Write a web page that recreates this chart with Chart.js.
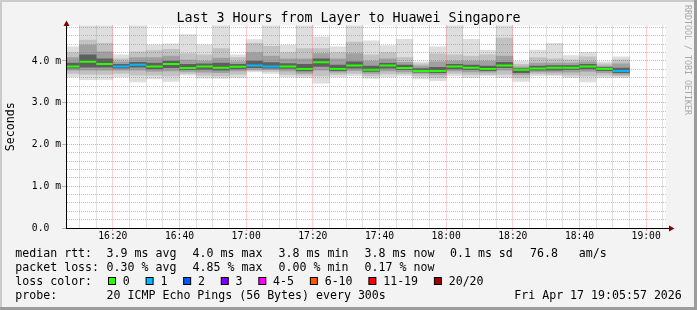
<!DOCTYPE html>
<html>
<head>
<meta charset="utf-8">
<script src="https://cdn.jsdelivr.net/npm/chart.js@4.4.1/dist/chart.umd.min.js"></script>
<style>
  html, body { margin: 0; padding: 0; background: #f3f3f3; overflow: hidden; }
  canvas { display: block; }
</style>
</head>
<body>
<canvas id="smoke" width="697" height="310"></canvas>
<script>
// 5 minute slots (start time), values in ms
const slotTimes = ['16:05', '16:10', '16:15', '16:20', '16:25', '16:30', '16:35', '16:40', '16:45', '16:50',
  '16:55', '17:00', '17:05', '17:10', '17:15', '17:20', '17:25', '17:30', '17:35', '17:40',
  '17:45', '17:50', '17:55', '18:00', '18:05', '18:10', '18:15', '18:20', '18:25', '18:30',
  '18:35', '18:40', '18:45', '18:50'];
const pingMax = [4.34, 4.90, 4.90, 4.15, 4.90, 4.39, 4.41, 4.63, 4.39, 4.90,
  4.15, 4.51, 4.90, 4.38, 4.90, 4.58, 4.34, 4.90, 4.48, 4.37,
  4.52, 3.98, 4.34, 4.90, 4.52, 4.26, 4.90, 3.99, 4.26, 4.42,
  4.13, 4.21, 3.98, 4.10];
const pingHi90 = [4.20, 4.50, 4.42, 4.05, 4.22, 4.25, 4.28, 4.18, 4.15, 4.30,
  4.08, 4.42, 4.35, 4.20, 4.30, 4.30, 4.20, 4.45, 4.15, 4.20,
  4.08, 3.93, 4.17, 4.15, 4.12, 4.15, 4.55, 3.92, 4.08, 4.05,
  4.03, 4.10, 3.93, 4.03];
const pingHi75 = [4.08, 4.38, 4.22, 3.98, 4.08, 4.08, 4.12, 4.02, 4.00, 4.07,
  3.98, 4.20, 4.12, 4.05, 4.05, 4.18, 4.05, 4.18, 4.00, 4.05,
  3.97, 3.88, 3.98, 4.00, 4.00, 4.00, 4.12, 3.86, 3.95, 3.95,
  3.95, 3.98, 3.88, 3.93];
const pingHi60 = [3.95, 4.15, 4.05, 3.92, 3.97, 3.95, 4.00, 3.92, 3.93, 3.95,
  3.92, 4.00, 3.96, 3.94, 3.92, 4.05, 3.90, 3.98, 3.88, 3.95,
  3.90, 3.82, 3.85, 3.92, 3.90, 3.88, 3.97, 3.82, 3.88, 3.89,
  3.89, 3.92, 3.84, 3.83];
const median = [3.87, 3.98, 3.93, 3.87, 3.91, 3.87, 3.93, 3.83, 3.87, 3.84,
  3.86, 3.89, 3.87, 3.87, 3.81, 3.97, 3.81, 3.89, 3.79, 3.89,
  3.83, 3.76, 3.76, 3.87, 3.84, 3.81, 3.89, 3.79, 3.82, 3.84,
  3.84, 3.87, 3.81, 3.76];
const pingLo40 = [3.83, 3.85, 3.85, 3.83, 3.85, 3.81, 3.84, 3.79, 3.80, 3.78,
  3.81, 3.84, 3.83, 3.82, 3.76, 3.87, 3.77, 3.83, 3.75, 3.83,
  3.79, 3.73, 3.72, 3.81, 3.79, 3.77, 3.84, 3.72, 3.78, 3.78,
  3.79, 3.81, 3.77, 3.72];
const pingLo25 = [3.78, 3.78, 3.78, 3.78, 3.78, 3.75, 3.76, 3.75, 3.73, 3.72,
  3.76, 3.80, 3.79, 3.76, 3.71, 3.78, 3.73, 3.77, 3.70, 3.76,
  3.74, 3.70, 3.67, 3.76, 3.74, 3.73, 3.78, 3.67, 3.74, 3.73,
  3.73, 3.75, 3.72, 3.68];
const pingLo10 = [3.70, 3.68, 3.68, 3.70, 3.66, 3.66, 3.64, 3.70, 3.66, 3.64,
  3.68, 3.77, 3.75, 3.68, 3.66, 3.64, 3.68, 3.70, 3.64, 3.69,
  3.69, 3.64, 3.60, 3.70, 3.67, 3.68, 3.68, 3.60, 3.69, 3.68,
  3.66, 3.64, 3.66, 3.64];
const pingMin = [3.62, 3.55, 3.56, 3.62, 3.50, 3.57, 3.51, 3.66, 3.59, 3.58,
  3.60, 3.74, 3.70, 3.62, 3.60, 3.47, 3.62, 3.64, 3.58, 3.62,
  3.64, 3.57, 3.53, 3.64, 3.60, 3.64, 3.60, 3.51, 3.64, 3.64,
  3.60, 3.50, 3.60, 3.60];
// index into lossColors for each slot
const lossIndex = [0, 0, 0, 1, 1, 0, 0, 0, 0, 0,
  0, 1, 1, 0, 0, 0, 0, 0, 0, 0,
  0, 0, 0, 0, 0, 0, 0, 0, 0, 0,
  0, 0, 0, 1];

const lossLabels = ['0', '1', '2', '3', '4-5', '6-10', '11-19', '20/20'];
const lossColors = ['#26ff00', '#00b8ff', '#0059ff', '#7e00ff', '#ff00ff', '#ff5500', '#ff0000', '#a10000'];
const yTickLabels = ['0.0  ', '1.0 m', '2.0 m', '3.0 m', '4.0 m'];
const rttStats = ['3.9 ms avg', '4.0 ms max', '3.8 ms min', '3.8 ms now', '0.1 ms sd', '76.8   am/s'];
const lossStats = ['0.30 % avg', '4.85 % max', '0.00 % min', '0.17 % now'];
const titleText = 'Last 3 Hours from Layer to Huawei Singapore';
const probeText = '20 ICMP Echo Pings (56 Bytes) every 300s';
const dateText = 'Fri Apr 17 19:05:57 2026';

const MONO = '"DejaVu Sans Mono", monospace';
const toMin = s => { const p = s.split(':'); return +p[0] * 60 + +p[1]; };
const graphStart = 16 * 60 + 5 + 57 / 60;
const graphEnd = 19 * 60 + 5 + 57 / 60;
const centers = slotTimes.map(t => toMin(t) + 2.5);

const xGrid = [];
for (let m = 970; m < graphEnd; m += 5) xGrid.push(m);
const yGrid = [];
for (let k = 0; k <= 24; k++) yGrid.push(k / 5);

const MAJOR = 'rgba(235, 70, 70, 0.5)';
const MINOR = 'rgba(120, 120, 120, 0.45)';
const NONE = 'rgba(0, 0, 0, 0)';
const isMajorX = v => Math.round(v) % 20 === 0;
const isMajorY = v => Math.round(v * 5) % 5 === 0;
const hhmm = v => String(Math.floor(v / 60)).padStart(2, '0') + ':' + String(Math.round(v % 60)).padStart(2, '0');
const tickVal = c => (c && c.tick) ? c.tick.value : null;

function band(lo, hi, color, order) {
  return {
    data: centers.map((x, i) => ({ x: x, y: [lo[i], hi[i]] })),
    backgroundColor: color,
    borderWidth: 0,
    grouped: false,
    barPercentage: 1,
    categoryPercentage: 1,
    clip: 0,
    order: order
  };
}

const rrdFrame = {
  id: 'rrdFrame',
  beforeDraw(chart) {
    const { ctx, width, height, chartArea: a } = chart;
    ctx.save();
    ctx.fillStyle = '#f3f3f3';
    ctx.fillRect(0, 0, width, height);
    ctx.fillStyle = '#cbcbcb';
    ctx.fillRect(0, 0, width, 2);
    ctx.fillRect(0, 0, 2, height);
    ctx.fillStyle = '#9c9c9c';
    ctx.fillRect(0, height - 3, width, 3);
    ctx.fillRect(width - 3, 0, 3, height);
    ctx.fillStyle = '#ffffff';
    ctx.fillRect(a.left, a.top, a.right - a.left, a.bottom - a.top);
    ctx.restore();
  },
  afterDraw(chart) {
    const { ctx, chartArea: a } = chart;
    ctx.save();
    // axis extensions and arrows
    ctx.strokeStyle = '#000';
    ctx.lineWidth = 1;
    ctx.beginPath();
    ctx.moveTo(a.right, a.bottom + 0.5);
    ctx.lineTo(a.right + 3, a.bottom + 0.5);
    ctx.stroke();
    ctx.fillStyle = '#800000';
    ctx.beginPath();
    ctx.moveTo(a.right + 3, a.bottom - 2.5);
    ctx.lineTo(a.right + 8.5, a.bottom + 0.5);
    ctx.lineTo(a.right + 3, a.bottom + 3.5);
    ctx.closePath();
    ctx.fill();
    ctx.beginPath();
    ctx.moveTo(a.left - 2.5, a.top + 0.5);
    ctx.lineTo(a.left + 0.5, a.top - 5);
    ctx.lineTo(a.left + 3.5, a.top + 0.5);
    ctx.closePath();
    ctx.fill();

    // title
    ctx.fillStyle = '#000';
    ctx.font = '13.3px ' + MONO;
    ctx.textAlign = 'center';
    ctx.textBaseline = 'middle';
    ctx.fillText(titleText, 348.5, 19);

    // legend rows
    ctx.font = '11.6px ' + MONO;
    ctx.textAlign = 'left';
    const rows = [254, 267.8, 281.6, 295.6];
    const cols = [106.6, 192.6, 278.6, 364.6, 450, 530];
    ctx.fillText('median rtt:', 15.3, rows[0]);
    rttStats.forEach((s, i) => ctx.fillText(s, cols[i], rows[0]));
    ctx.fillText('packet loss:', 15.3, rows[1]);
    lossStats.forEach((s, i) => ctx.fillText(s, cols[i], rows[1]));
    ctx.fillText('loss color:', 15.3, rows[2]);
    let bx = 108.5;
    lossLabels.forEach((lab, i) => {
      ctx.fillStyle = lossColors[i];
      ctx.fillRect(bx, 277.5, 7, 7);
      ctx.strokeStyle = '#000';
      ctx.strokeRect(bx, 277.5, 7, 7);
      ctx.fillStyle = '#000';
      ctx.fillText(lab, bx + 14.3, rows[2]);
      bx += 15 + ctx.measureText(lab).width + 15.6;
    });
    ctx.fillText('probe:', 15.3, rows[3]);
    ctx.fillText(probeText, cols[0], rows[3]);
    ctx.textAlign = 'right';
    ctx.fillText(dateText, 681.8, rows[3]);

    // vertical watermark
    ctx.translate(687, 5);
    ctx.rotate(Math.PI / 2);
    ctx.textAlign = 'left';
    ctx.fillStyle = '#a8a8a8';
    ctx.font = '8.3px ' + MONO;
    ctx.fillText('RRDTOOL / TOBI OETIKER', 0, 0);
    ctx.restore();
  }
};

Chart.defaults.font.family = MONO;
Chart.defaults.color = '#000';

new Chart(document.getElementById('smoke'), {
  type: 'bar',
  data: {
    datasets: [
      {
        type: 'line',
        data: centers.map((x, i) => ({ x: x, y: median[i] })),
        showLine: false,
        pointStyle: 'line',
        pointRadius: 8.333,
        pointBorderWidth: 2,
        pointBorderColor: lossIndex.map(i => lossColors[i]),
        clip: 0,
        order: 0
      },
      band(pingLo40, pingHi60, '#5f5f5f', 1),
      band(pingLo25, pingHi75, '#a0a0a0', 2),
      band(pingLo10, pingHi90, '#c2c2c2', 3),
      band(pingMin, pingMax, '#dedede', 4)
    ]
  },
  options: {
    responsive: false,
    animation: false,
    devicePixelRatio: 1,
    layout: { padding: { top: 25.5, left: 0, right: 31, bottom: 0 } },
    plugins: {
      legend: { display: false },
      tooltip: { enabled: false },
      title: { display: false }
    },
    scales: {
      x: {
        type: 'linear',
        offset: false,
        min: graphStart,
        max: graphEnd,
        afterBuildTicks: s => { s.ticks = xGrid.map(v => ({ value: v })); },
        afterFit: s => { s.height = 82; },
        grid: {
          z: 1,
          offset: false,
          color: c => { const v = tickVal(c); return v !== null && isMajorX(v) ? MAJOR : MINOR; },
          tickColor: c => { const v = tickVal(c); return v !== null && isMajorX(v) ? MAJOR : NONE; },
          tickLength: 3
        },
        border: { display: true, color: '#000', width: 1, dash: [1, 1], z: 2 },
        ticks: {
          autoSkip: false,
          maxRotation: 0,
          padding: 0,
          font: { size: 9.7 },
          callback: v => isMajorX(v) ? hhmm(v) : ''
        }
      },
      y: {
        min: 0,
        max: 4.85,
        afterBuildTicks: s => { s.ticks = yGrid.map(v => ({ value: v })); },
        afterFit: s => { s.width = 66; },
        grid: {
          z: 1,
          color: c => { const v = tickVal(c); return v !== null && isMajorY(v) ? MAJOR : MINOR; },
          tickColor: c => { const v = tickVal(c); return v !== null && isMajorY(v) ? MAJOR : NONE; },
          tickLength: 4
        },
        border: { display: true, color: '#000', width: 1, dash: [1, 1], z: 2 },
        ticks: {
          autoSkip: false,
          padding: 1,
          font: { size: 9.7 },
          callback: v => isMajorY(v) ? yTickLabels[Math.round(v)] : ''
        },
        title: {
          display: true,
          text: 'Seconds',
          font: { size: 11.6 },
          padding: { top: 4, bottom: 0 }
        }
      }
    }
  },
  plugins: [rrdFrame]
});
</script>
</body>
</html>
